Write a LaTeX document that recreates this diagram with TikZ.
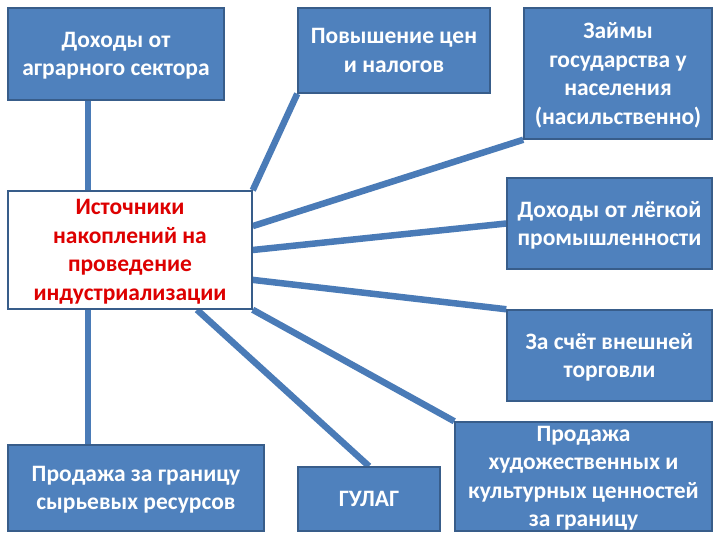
\documentclass[tikz,border=0pt]{standalone}
\usepackage{fontspec}
\setmainfont{Carlito}
\usepackage{tikz}
\usetikzlibrary{calc,positioning,backgrounds}
\definecolor{boxblue}{HTML}{4F81BD}
\definecolor{boxedge}{HTML}{385D8A}
\definecolor{linkblue}{HTML}{4A7BB7}
\definecolor{srcred}{HTML}{DD0000}

\begin{document}
\begin{tikzpicture}[x=1pt,y=-1pt]
	\tikzstyle{every node}=[font=\bfseries\fontsize{23.5}{28.5}\selectfont]
	\tikzstyle{srcbox}=[draw=boxedge,line width=1.5pt,fill=white,text=srcred,align=center,inner sep=0pt,text depth=-16pt]
	\tikzstyle{box}=[draw=boxedge,line width=1.5pt,fill=boxblue,text=white,align=center,inner sep=0pt,text depth=-7pt]
	\tikzstyle{l}=[draw=linkblue,line width=6.5pt]
	\useasboundingbox (0,0) rectangle (720,540);

	%% Centre
	\node [srcbox,minimum width=244pt,minimum height=118pt] (src) at (130,250) {Источники\\накоплений на\\проведение\\индустриализации};

	%% Top row
	\node [box,minimum width=216pt,minimum height=92pt] (agr) at (116,54) {Доходы от\\аграрного сектора};
	\node [box,minimum width=192pt,minimum height=85pt] (tax) at (394,50.5) {Повышение цен\\и налогов};
	\node [box,minimum width=188pt,minimum height=131pt] (loan) at (618,73.5) {Займы\\государства у\\населения\\(насильственно)};

	%% Right column
	\node [box,minimum width=205pt,minimum height=91pt] (light) at (609.5,223.5) {Доходы от лёгкой\\промышленности};
	\node [box,minimum width=205pt,minimum height=91pt] (trade) at (609.5,355.5) {За счёт внешней\\торговли};

	%% Bottom row
	\node [box,minimum width=256pt,minimum height=86pt] (raw) at (136,488) {Продажа за границу\\сырьевых ресурсов};
	\node [box,minimum width=142pt,minimum height=64pt] (gulag) at (369,499) {ГУЛАГ};
	\node [box,minimum width=257pt,minimum height=109pt] (art) at (583.5,476.5) {Продажа\\художественных и\\культурных ценностей\\за границу};

	%% Links
	\begin{scope}[on background layer]
		\fill [white] (0,0) rectangle (720,540);
		\path [l] ([xshift=-28pt]agr.south) -- ([xshift=-28pt]agr.south |- src.north);
		\path [l] (tax.south west) -- (src.north east);
		\path [l] (loan.south west) -- ($(src.north east)!0.3!(src.south east)$);
		\path [l] (light.west) -- (src.east);
		\path [l] ($(src.north east)!0.75!(src.south east)$) -- (trade.north west);
		\path [l] ([xshift=-48pt]raw.north) -- ([xshift=-48pt]raw.north |- src.south);
		\path [l] ([xshift=67pt]src.south) -- (gulag.north);
		\path [l] (src.south east) -- (art.north west);
	\end{scope}
\end{tikzpicture}
\end{document}
